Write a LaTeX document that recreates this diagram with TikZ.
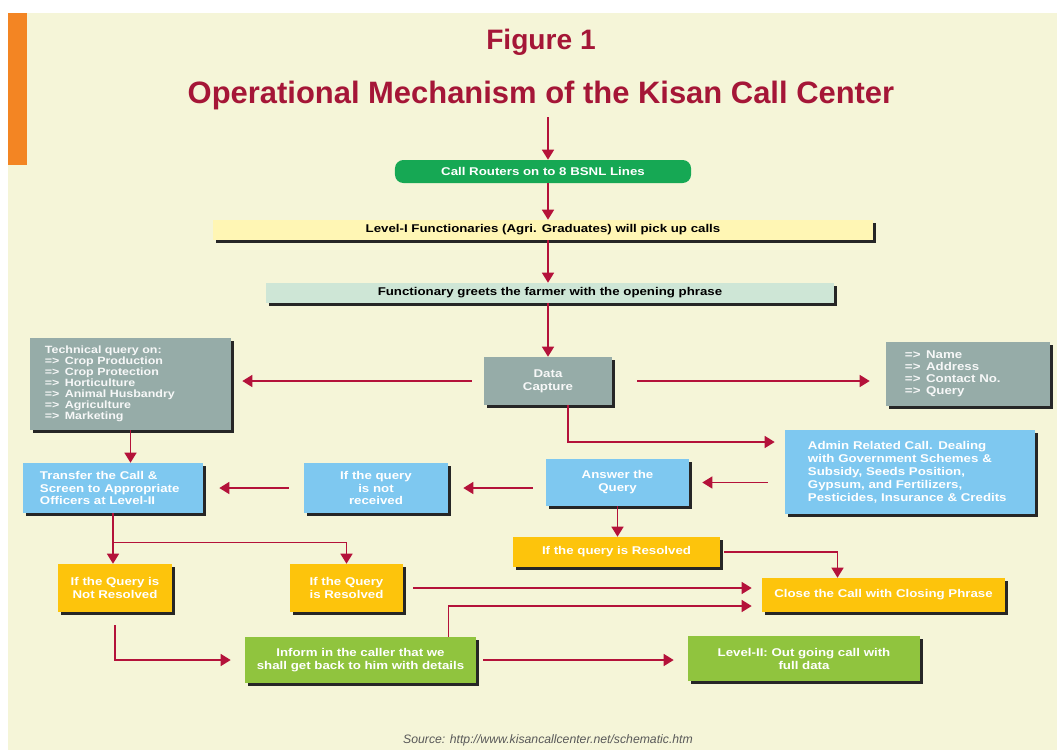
\documentclass[tikz,border=0pt]{standalone}
\usepackage{fontspec}
\setmainfont{Liberation Sans}
\newfontfamily\boxfont{Liberation Sans}[FakeStretch=1.18]
\usetikzlibrary{arrows.meta,calc,shadows}

\definecolor{cream}{RGB}{245,245,216}
\definecolor{barorange}{RGB}{243,133,35}
\definecolor{titlered}{RGB}{165,22,55}
\definecolor{linkred}{RGB}{180,18,58}
\definecolor{routegreen}{RGB}{22,168,84}
\definecolor{paleyellow}{RGB}{255,246,180}
\definecolor{palegreen}{RGB}{206,230,214}
\definecolor{capgray}{RGB}{150,172,168}
\definecolor{skyblue}{RGB}{126,200,240}
\definecolor{gold}{RGB}{253,196,12}
\definecolor{lime}{RGB}{144,196,62}

\begin{document}
\begin{tikzpicture}
[x=0.025cm,y=-0.025cm,>={Triangle[width=0.3cm,length=0.25cm]},
arr/.style={->,draw=linkred,line width=1pt},
flat/.style={rectangle,inner sep=0pt,align=center,text=white,font=\boxfont\bfseries\fontsize{8}{9.2}\selectfont},
box/.style={flat,drop shadow={shadow xshift=2pt,shadow yshift=-2pt,fill=black!85,opacity=1}},
graybox/.style={box,fill=capgray,text=white!92!capgray},]
%Page and frame
\useasboundingbox (0,0) rectangle (1057,750);
\fill[white] (0,0) rectangle (1057,750);
\fill[cream] (8,13) rectangle (1057,750);
\fill[barorange] (8,13) rectangle (27,165);

%Headings
\node (fig) at (541,42)[font=\bfseries\fontsize{20}{24}\selectfont,text=titlered] {Figure 1};
\node (title) at (541,95)[font=\bfseries\fontsize{22}{26}\selectfont,text=titlered] {Operational Mechanism of the Kisan Call Center};
\coordinate (top) at (548,117);

%Main column
\node (route) at (543,171.5)[flat,fill=routegreen,rounded corners=6pt,minimum width=7.4cm,minimum height=0.575cm] {Call Routers on to 8 BSNL Lines};
\node (level1) at (543,230)[box,fill=paleyellow,text=black,minimum width=16.5cm,minimum height=0.5cm] {Level-I Functionaries (Agri. Graduates) will pick up calls};
\node (greet) at (550,293)[box,fill=palegreen,text=black,minimum width=14.2cm,minimum height=0.5cm] {Functionary greets the farmer with the opening phrase};
\node (data) at (548,381)[graybox,minimum width=3.2cm,minimum height=1.2cm] {Data\\Capture};

%Side boxes
\node (tech) at (130.5,384)[graybox,align=left,text width=4.275cm,inner xsep=0.375cm,minimum height=2.3cm,font=\boxfont\bfseries\fontsize{7.5}{7.8}\selectfont] {Technical query on:\\ =>\enspace Crop Production\\ =>\enspace Crop Protection\\ =>\enspace Horticulture\\ =>\enspace Animal Husbandry\\ =>\enspace Agriculture\\ =>\enspace Marketing};
\node (info) at (968,374)[graybox,align=left,text width=3.15cm,inner xsep=0.475cm,minimum height=1.6cm,font=\boxfont\bfseries\fontsize{8}{8.6}\selectfont] {=>\enspace Name\\ =>\enspace Address\\ =>\enspace Contact No.\\ =>\enspace Query};
\node (admin) at (910,472)[box,fill=skyblue,align=left,text width=5.1cm,inner xsep=0.575cm,minimum height=2.1cm] {Admin Related Call. Dealing\\ with Government Schemes \&\\ Subsidy, Seeds Position,\\ Gypsum, and Fertilizers,\\ Pesticides, Insurance \& Credits};

%Answer row
\node (answer) at (617.5,482.5)[box,fill=skyblue,minimum width=3.575cm,minimum height=1.175cm] {Answer the\\Query};
\node (notrecv) at (376,488)[box,fill=skyblue,minimum width=3.6cm,minimum height=1.25cm] {If the query\\is not\\received};
\node (transfer) at (113,488)[box,fill=skyblue,align=left,text width=3.65cm,inner xsep=0.425cm,minimum height=1.25cm] {Transfer the Call \&\\ Screen to Appropriate\\ Officers at Level-II};

%Resolution boxes
\node (resolved) at (616.5,552)[box,fill=gold,minimum width=5.175cm,minimum height=0.75cm] {If the query is Resolved};
\node (notres) at (115,588)[box,fill=gold,minimum width=2.85cm,minimum height=1.2cm] {If the Query is\\Not Resolved};
\node (isres) at (346.5,588)[box,fill=gold,minimum width=2.825cm,minimum height=1.2cm] {If the Query\\is Resolved};
\node (close) at (883.5,595)[box,fill=gold,minimum width=6.075cm,minimum height=0.85cm] {Close the Call with Closing Phrase};
\node (inform) at (360.5,660)[box,fill=lime,minimum width=5.775cm,minimum height=1.15cm] {Inform in the caller that we\\shall get back to him with details};
\node (level2) at (804,658.5)[box,fill=lime,minimum width=5.8cm,minimum height=1.125cm] {Level-II: Out going call with\\full data};

%Source
\node (src) at (548,740)[font=\itshape\fontsize{8.7}{10}\selectfont,text=black!65] {Source: http://www.kisancallcenter.net/schematic.htm};

%Connectors
\draw[arr] (top) -- (top|-route.north);
\draw[arr] (top|-route.south) -- (top|-level1.north);
\draw[arr] (top|-level1.south) -- (top|-greet.north);
\draw[arr] (top|-greet.south) -- (top|-data.north);
\draw[arr,shorten <=0.3cm,shorten >=0.275cm] (data.west) -- (data.west-|tech.east);
\draw[arr,shorten <=0.625cm,shorten >=0.4cm] (data.east) -- (data.east-|info.west);
\draw[arr,shorten >=0.25cm] ($(data.south)+(20,0)$) |- ($(admin.west)+(0,-30)$);
\draw[arr,shorten <=0.425cm,shorten >=0.325cm] (admin.west|-answer.east) -- (answer.east);
\draw[arr,shorten <=0.325cm,shorten >=0.375cm] (answer.west|-notrecv.east) -- (notrecv.east);
\draw[arr,shorten <=0.375cm,shorten >=0.4cm] (notrecv.west) -- (transfer.east);
\draw[arr] (tech.south) -- (tech.south|-transfer.north);
\draw[arr] (answer.south) -- (answer.south|-resolved.north);
\draw[arr,shorten <=0.1cm] (resolved.east) -| ($(close.north)+(-46,0)$);
\draw[arr] (transfer.south) -- (transfer.south|-notres.north);
\draw[arr] ($(transfer.south)+(0,29)$) -| (isres.north);
\draw[arr,shorten <=0.25cm,shorten >=0.25cm] (isres.east) -- (isres.east-|close.west);
\draw[arr,shorten >=0.25cm] ($(inform.north)+(88,0)$) |- ($(close.west)+(0,11)$);
\draw[arr,shorten <=0.325cm,shorten >=0.35cm] (notres.south) |- (inform.west);
\draw[arr,shorten <=0.175cm,shorten >=0.35cm] (inform.east) -- (level2.west|-inform.east);
\end{tikzpicture}
\end{document}
